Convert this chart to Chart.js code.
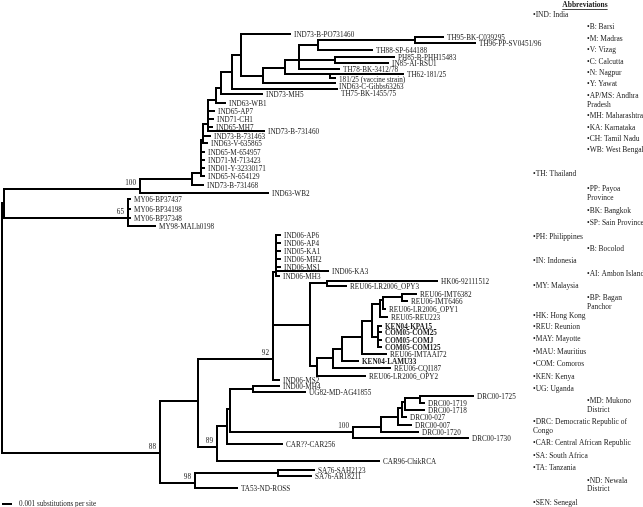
<!DOCTYPE html>
<html>
<head>
<meta charset="utf-8">
<script src="https://cdn.jsdelivr.net/npm/chart.js@4.4.1/dist/chart.umd.min.js"></script>
<style>
  html, body { margin: 0; padding: 0; background: #fff; }
  #wrap { position: relative; width: 643px; height: 507px; }
</style>
</head>
<body>
<div id="wrap"><canvas id="tree"></canvas></div>
<script>
// internal nodes: depth from root in units of 0.001 substitutions/site, row = vertical slot
const nodeNames = ['root', 'asia', 'ind100', 'my65', 'n0', 'n1', 'n2', 'n3', 'n4', 'n5', 'n6',
  'nA', 'nB', 'nC', 'nD', 'nE', 'nG', 'nH', 'nI',
  'ewa', 'n198', 'wa', 'ecsa', 'n217', 'ind06', 'n310', 'hkn', 'n317', 'n333', 'n342', 'n362',
  'nP', 'nQ', 'nS', 'nT', 'nR', 'n227', 'n230', 'n253', 'drc', 'drcA', 'drcB', 'drcC', 'drcD', 'drcE', 'sa'];
const nodeParents = [null, 'root', 'asia', 'asia', 'ind100', 'n0', 'n1', 'n2', 'n3', 'n4', 'n5',
  'n6', 'nA', 'nB', 'nC', 'nC', 'nD', 'nD', 'nG',
  'root', 'ewa', 'ewa', 'n198', 'n198', 'ecsa', 'ecsa', 'n310', 'n310', 'n317', 'n333', 'n342',
  'n362', 'nP', 'nQ', 'nS', 'nP', 'n217', 'n227', 'n230', 'n230', 'drc', 'drcA', 'drcB', 'drcC', 'drcD', 'wa'];
const nodeDepths = [0, 0.2, 13.8, 12.6, 19.0, 19.9, 20.1, 20.6, 21.4, 21.9, 23.0,
  23.9, 26.1, 28.3, 29.7, 32.8, 31.6, 33.3, 41.3,
  15.8, 19.6, 19.3, 27.1, 21.5, 27.4, 30.8, 32.5, 31.5, 33.1, 34.0, 36.0,
  37.0, 37.8, 38.1, 40.0, 37.6, 22.5, 22.8, 25.1, 35.1, 37.9, 39.6, 40.0, 40.3, 41.8, 27.6];
const nodeRows = [328, 203, 189, 218, 179, 173, 140, 124, 100, 88, 72,
  55, 76, 68, 60, 74, 45, 60, 40,
  453, 401, 483, 359, 447, 272, 325, 283, 366, 358, 349, 337,
  321, 304, 300, 297, 337, 426, 409, 389, 432, 427, 417, 408, 402, 398, 473];
const nodeSupport = ['', '', '100', '65', '', '', '', '', '', '', '',
  '', '', '', '', '', '', '', '',
  '88', '', '98', '92', '89', '', '', '', '', '', '', '',
  '', '', '', '', '', '', '', '', '100', '', '', '', '', '', ''];

const tipNames = [
  'IND73-B-PO731460', 'TH95-BK-C039295', 'TH96-PP-SV0451/96', 'TH88-SP-644188', 'PH85-B-PHH15483',
  'IN85-AI-RSU1', 'TH78-BK-3412/78', 'TH62-181/25', '181/25 (vaccine strain)', 'IND63-C-Gibbs63263',
  'TH75-BK-1455/75', 'IND73-MH5', 'IND63-WB1', 'IND65-AP7', 'IND71-CH1', 'IND65-MH7', 'IND73-B-731460',
  'IND73-B-731463', 'IND63-V-635865', 'IND65-M-654957', 'IND71-M-713423', 'IND01-Y-32330171',
  'IND65-N-654129', 'IND73-B-731468', 'IND63-WB2', 'MY06-BP37437', 'MY06-BP34198', 'MY06-BP37348',
  'MY98-MALh0198',
  'IND06-AP6', 'IND06-AP4', 'IND05-KA1', 'IND06-MH2', 'IND06-MS1', 'IND06-KA3', 'IND06-MH3',
  'HK06-92111512', 'REU06-LR2006_OPY3', 'REU06-IMT6382', 'REU06-IMT6466', 'REU06-LR2006_OPY1',
  'REU05-REU223', 'KEN04-KPA15', 'COM05-COM25', 'COM05-COMJ', 'COM05-COM125', 'REU06-IMTAAI72',
  'KEN04-LAMU33', 'REU06-CQI187', 'REU06-LR2006_OPY2', 'IND06-MS2', 'IND00-MH4', 'UG82-MD-AG41855',
  'DRC00-1725', 'DRC00-1719', 'DRC00-1718', 'DRC00-027', 'DRC00-007', 'DRC00-1720', 'DRC00-1730',
  'CAR??-CAR256', 'CAR96-ChikRCA', 'SA76-SAH2123', 'SA76-AR18211', 'TA53-ND-ROSS'];
const tipParents = [
  'nA', 'nI', 'nI', 'nG', 'nH', 'nH', 'nD', 'nE', 'nE', 'nB', 'n6', 'n5', 'n4', 'n3', 'n3', 'n3', 'n3',
  'n2', 'n2', 'n1', 'n1', 'n1', 'n1', 'n0', 'ind100', 'my65', 'my65', 'my65', 'my65',
  'ind06', 'ind06', 'ind06', 'ind06', 'ind06', 'ind06', 'ind06',
  'hkn', 'hkn', 'nT', 'nT', 'nS', 'nQ', 'nR', 'nR', 'nR', 'nR', 'n362', 'n342', 'n333', 'n317',
  'ecsa', 'n253', 'n253', 'drcE', 'drcE', 'drcD', 'drcC', 'drcB', 'drcA', 'drc',
  'n227', 'n217', 'sa', 'sa', 'wa'];
const tipDepths = [
  28.8, 44.1, 47.3, 37.0, 39.2, 38.6, 33.7, 40.1, 33.3, 33.3, 33.5, 26.0, 22.3, 21.2, 21.1, 21.0, 26.2,
  20.8, 20.5, 20.2, 20.2, 20.2, 20.2, 20.1, 26.6, 12.8, 12.8, 12.8, 15.3,
  27.8, 27.8, 27.8, 27.8, 27.8, 32.6, 27.7,
  43.5, 34.4, 41.4, 40.5, 38.3, 38.5, 37.9, 37.9, 37.9, 37.9, 38.4, 35.6, 38.8, 36.3,
  27.7, 27.7, 30.3, 47.1, 42.2, 42.2, 40.4, 40.9, 41.6, 46.6,
  28.0, 37.7, 31.2, 30.9, 23.5];
const tipRows = [
  34, 37, 43, 50, 57, 63, 69, 74, 78, 83, 89, 94, 103, 111, 119, 127, 131,
  136, 143, 152, 160, 168, 176, 185, 193, 199, 209, 218, 226,
  235, 243, 251, 259, 267, 271, 276,
  281, 286, 294, 301, 309, 317, 326, 332, 340, 347, 354, 361, 368, 376,
  380, 386, 392, 396, 403, 410, 417, 425, 432, 438,
  444, 461, 470, 476, 488];
const boldTips = ['KEN04-KPA15', 'COM05-COM25', 'COM05-COMJ', 'COM05-COM125', 'KEN04-LAMU33'];

const scaleBarLength = 1; // 0.001 substitutions per site
const scaleBarLabel = '0.001 substitutions per site';

const abbrevTitle = 'Abbreviations';
const abbrevLines = ['•IND: India', '•B: Barsi', '•M: Madras', '•V: Vizag', '•C: Calcutta', '•N: Nagpur',
  '•Y: Yawat', '•AP/MS: Andhra', 'Pradesh', '•MH: Maharashtra', '•KA: Karnataka', '•CH: Tamil Nadu',
  '•WB: West Bengal', '•TH: Thailand', '•PP: Payoa', 'Province', '•BK: Bangkok', '•SP: Sain Province',
  '•PH: Philippines', '•B: Bocolod', '•IN: Indonesia', '•AI: Ambon Island', '•MY: Malaysia',
  '•BP: Bagan', 'Panchor', '•HK: Hong Kong', '•REU: Reunion', '•MAY: Mayotte', '•MAU: Mauritius',
  '•COM: Comoros', '•KEN: Kenya', '•UG: Uganda', '•MD: Mukono', 'District',
  '•DRC: Democratic Republic of', 'Congo', '•CAR: Central African Republic', '•SA: South Africa',
  '•TA: Tanzania', '•ND: Newala', 'District', '•SEN: Senegal'];
const abbrevLevels = [0, 1, 1, 1, 1, 1, 1, 1, 1, 1, 1, 1, 1, 0, 1, 1, 1, 1, 0, 1, 0, 1, 0, 1, 1,
  0, 0, 0, 0, 0, 0, 0, 1, 1, 0, 0, 0, 0, 0, 1, 1, 0];

// ---- build branch segments (null points break the line) ----
const depthOf = {};
nodeNames.forEach((n, i) => { depthOf[n] = nodeDepths[i]; });

const childRows = {};
nodeNames.forEach(n => { childRows[n] = []; });
nodeParents.forEach((p, i) => { if (p) childRows[p].push(nodeRows[i]); });
tipParents.forEach((p, i) => childRows[p].push(tipRows[i]));

const branchPts = [];
function seg(x1, y1, x2, y2) {
  branchPts.push({ x: x1, y: y1 }, { x: x2, y: y2 }, { x: null, y: null });
}
nodeNames.forEach((n, i) => {
  if (nodeParents[i]) seg(depthOf[nodeParents[i]], nodeRows[i], nodeDepths[i], nodeRows[i]);
  const rows = childRows[n];
  seg(nodeDepths[i], Math.min(...rows), nodeDepths[i], Math.max(...rows));
});
tipNames.forEach((t, i) => seg(depthOf[tipParents[i]], tipRows[i], tipDepths[i], tipRows[i]));

const SERIF = '"Liberation Serif", "DejaVu Serif", serif';
// a few labels sit a little below their branch in the crowded Thai clade
const labelNudge = { '181/25 (vaccine strain)': 1, 'IND63-C-Gibbs63263': 3, 'TH75-BK-1455/75': 4 };

const treeText = {
  id: 'treeText',
  afterDatasetsDraw(chart) {
    const { ctx, scales: { x, y } } = chart;
    ctx.save();
    ctx.fillStyle = '#1a1a1a';
    ctx.textBaseline = 'middle';
    ctx.textAlign = 'left';
    tipNames.forEach((t, i) => {
      ctx.font = (boldTips.includes(t) ? 'bold ' : '') + '7.2px ' + SERIF;
      const dy = 1 + (labelNudge[t] || 0);
      ctx.fillText(t, x.getPixelForValue(tipDepths[i]) + 4, y.getPixelForValue(tipRows[i]) + dy);
    });
    // bootstrap values
    ctx.font = '7.2px ' + SERIF;
    ctx.textAlign = 'right';
    nodeSupport.forEach((s, i) => {
      if (!s) return;
      ctx.fillText(s, x.getPixelForValue(nodeDepths[i]) - 4, y.getPixelForValue(nodeRows[i]) - 6);
    });
    // scale bar caption
    ctx.textAlign = 'left';
    ctx.fillText(scaleBarLabel, x.getPixelForValue(scaleBarLength) + 7, y.getPixelForValue(504));

    // abbreviations list
    ctx.font = 'bold 7.5px ' + SERIF;
    ctx.textAlign = 'center';
    ctx.fillText(abbrevTitle, 585, 5);
    const tw = ctx.measureText(abbrevTitle).width;
    ctx.fillRect(585 - tw / 2, 9, tw, 0.8);
    ctx.font = '7.5px ' + SERIF;
    ctx.textAlign = 'left';
    const lineY = [15, 27, 39, 50, 62, 73, 84, 96, 105, 116, 128, 139, 150, 174, 189, 198, 211, 223,
      237, 249, 261, 274, 286, 298, 307, 316, 327, 339, 352, 364, 377, 389, 401, 410, 422, 431,
      443, 456, 468, 481, 489, 503];
    abbrevLines.forEach((t, i) => {
      ctx.fillText(t, abbrevLevels[i] ? 587 : 533, lineY[i]);
    });
    ctx.restore();
  }
};

new Chart(document.getElementById('tree'), {
  type: 'scatter',
  data: {
    datasets: [
      {
        data: branchPts,
        showLine: true,
        spanGaps: false,
        borderColor: '#000',
        borderWidth: 2,
        borderCapStyle: 'square',
        pointRadius: 0,
        pointHoverRadius: 0
      },
      {
        data: [{ x: 0, y: 504 }, { x: scaleBarLength, y: 504 }],
        showLine: true,
        borderColor: '#000',
        borderWidth: 2,
        pointRadius: 0
      }
    ]
  },
  options: {
    responsive: true,
    maintainAspectRatio: false,
    animation: false,
    layout: { padding: 0 },
    scales: {
      x: { type: 'linear', display: false, min: -0.2, max: 64.1 },
      y: { type: 'linear', display: false, min: 0, max: 507, reverse: true }
    },
    plugins: {
      legend: { display: false },
      tooltip: { enabled: false }
    }
  },
  plugins: [treeText]
});
</script>
</body>
</html>
